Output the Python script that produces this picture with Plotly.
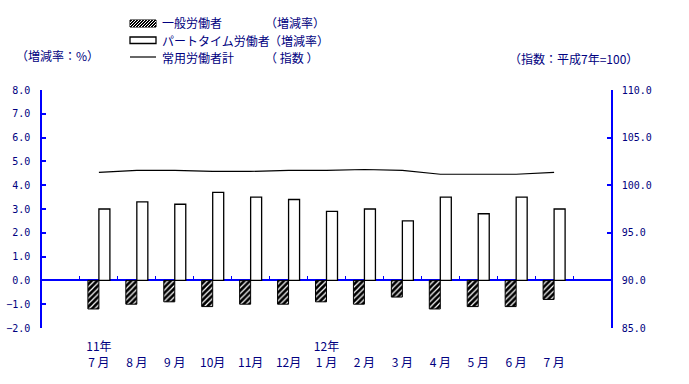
import plotly.graph_objects as go

# ---- data ----
categories = ["11年7月", "8月", "9月", "10月", "11月", "12月", "12年1月",
              "2月", "3月", "4月", "5月", "6月", "7月"]
tick_labels = ["11年<br>7 月", " <br>8 月", " <br>9 月", " <br>10月", " <br>11月",
               " <br>12月", "12年<br>1 月", " <br>2 月", " <br>3 月", " <br>4 月",
               " <br>5 月", " <br>6 月", " <br>7 月"]
general_rate = [-1.2, -1.0, -0.9, -1.1, -1.0, -1.0, -0.9, -1.0, -0.7, -1.2, -1.1, -1.1, -0.8]
parttime_rate = [3.0, 3.3, 3.2, 3.7, 3.5, 3.4, 2.9, 3.0, 2.5, 3.5, 2.8, 3.5, 3.0]
regular_index = [101.35, 101.55, 101.55, 101.45, 101.45, 101.55, 101.55,
                 101.65, 101.55, 101.15, 101.15, 101.15, 101.35]

# ---- layout geometry (screen pixels) ----
W, H = 689, 384
L, R, T, B = 42, 611, 90, 328


def px(x):
    return (x - L) / (R - L)


def py(y):
    return (B - y) / (B - T)


NAVY = "#000080"
BLUE = "#0000ff"
CJK = "Noto Sans CJK JP"
MONO = "DejaVu Sans Mono"

fig = go.Figure()
fig.add_trace(go.Bar(
    x=categories, y=general_rate, name="一般労働者",
    marker=dict(color="black", line=dict(color="black", width=1),
                pattern=dict(shape="/", bgcolor="black", fgcolor="white",
                             size=4, solidity=0.3, fillmode="replace")),
    showlegend=False))
fig.add_trace(go.Bar(
    x=categories, y=parttime_rate, name="パートタイム労働者",
    marker=dict(color="white", line=dict(color="black", width=1.3)),
    showlegend=False))
fig.add_trace(go.Scatter(
    x=categories, y=regular_index, yaxis="y2", mode="lines",
    line=dict(color="black", width=1.2), name="常用労働者計", showlegend=False))
# invisible trace for the label axis
fig.add_trace(go.Scatter(x=list(range(len(categories))), y=[None] * len(categories),
                         xaxis="x2", mode="markers", showlegend=False, hoverinfo="skip"))

zero_pos = (0 - (-2)) / (8 - (-2))

fig.update_layout(
    width=W, height=H,
    margin=dict(l=L, r=W - R, t=T, b=H - B, pad=0, autoexpand=False),
    paper_bgcolor="white", plot_bgcolor="white",
    barmode="group", bargap=0.42, bargroupgap=0,
    font=dict(family=CJK, size=12, color=NAVY),
    xaxis=dict(type="category", categoryorder="array", categoryarray=categories,
               range=[-1.5, 13.5], anchor="free", position=zero_pos,
               showline=False, showgrid=False, zeroline=False, automargin=False,
               tickson="boundaries", ticks="inside", ticklen=4, tickcolor=BLUE,
               tickwidth=1, showticklabels=False),
    xaxis2=dict(overlaying="x", range=[-1.5, 13.5], anchor="y", side="bottom",
                showline=False, showgrid=False, zeroline=False, ticks="",
                automargin=False, ticklabelstandoff=10,
                tickvals=list(range(len(categories))), ticktext=tick_labels,
                tickfont=dict(family=CJK, size=12, color=NAVY)),
    yaxis=dict(range=[-2, 8], dtick=1, tickformat=".1f", showgrid=False,
               showline=True, linecolor=BLUE, linewidth=1.5, automargin=False,
               ticks="inside", ticklen=4, tickcolor=BLUE, tickwidth=1.5,
               zeroline=True, zerolinecolor=BLUE, zerolinewidth=1.5,
               tickfont=dict(family=MONO, size=10, color=NAVY),
               ticklabelstandoff=8),
    yaxis2=dict(range=[85, 110], dtick=5, tickformat=".1f", overlaying="y",
                side="right", showgrid=False, zeroline=False, automargin=False,
                showline=True, linecolor=BLUE, linewidth=1.5,
                ticks="inside", ticklen=4, tickcolor=BLUE, tickwidth=1.5,
                tickfont=dict(family=MONO, size=10, color=NAVY),
                ticklabelstandoff=7),
)

# ---- custom legend ----
shapes = []
lx0, lx1 = 130, 156
# hatched icon
hy0, hy1 = 20, 27
shapes.append(dict(type="rect", xref="paper", yref="paper",
                   x0=px(lx0), x1=px(lx1), y0=py(hy1), y1=py(hy0),
                   fillcolor="black", line=dict(color="black", width=1)))
h = hy1 - hy0
for k in range(0, 14):
    sx = lx0 - h + k * 3.0
    ex = sx + h
    ax, ay = sx, hy1
    bx, by = ex, hy0
    if ax < lx0:
        ay = hy1 - (lx0 - ax)
        ax = lx0
    if bx > lx1:
        by = hy0 + (bx - lx1)
        bx = lx1
    if bx <= ax:
        continue
    shapes.append(dict(type="line", xref="paper", yref="paper",
                       x0=px(ax), y0=py(ay), x1=px(bx), y1=py(by),
                       line=dict(color="white", width=1)))
# white icon
shapes.append(dict(type="rect", xref="paper", yref="paper",
                   x0=px(lx0), x1=px(lx1), y0=py(43.5), y1=py(37),
                   fillcolor="white", line=dict(color="black", width=1.3)))
# line icon
shapes.append(dict(type="line", xref="paper", yref="paper",
                   x0=px(lx0), x1=px(lx1), y0=py(57), y1=py(57),
                   line=dict(color="black", width=1.2)))
fig.update_layout(shapes=shapes)

texts = [
    ("一般労働者", 160, 23), ("（増減率）", 263, 23),
    ("パートタイム労働者", 160, 40), ("（増減率）", 267, 40),
    ("常用労働者計", 160, 57), ("（ 指数 ）", 263, 57),
    ("（増減率：%）", 14, 55), ("（指数：平成7年=100）", 507, 58),
]
for t, x, y in texts:
    fig.add_annotation(text=t, xref="paper", yref="paper", x=px(x), y=py(y),
                       xanchor="left", yanchor="middle", showarrow=False,
                       font=dict(family=CJK, size=12, color=NAVY))

# remove the default 8px page margin so the figure fills the window exactly
fig.write_html("out.html", config={"displayModeBar": False},
               post_script="document.body.style.margin='0px';")
